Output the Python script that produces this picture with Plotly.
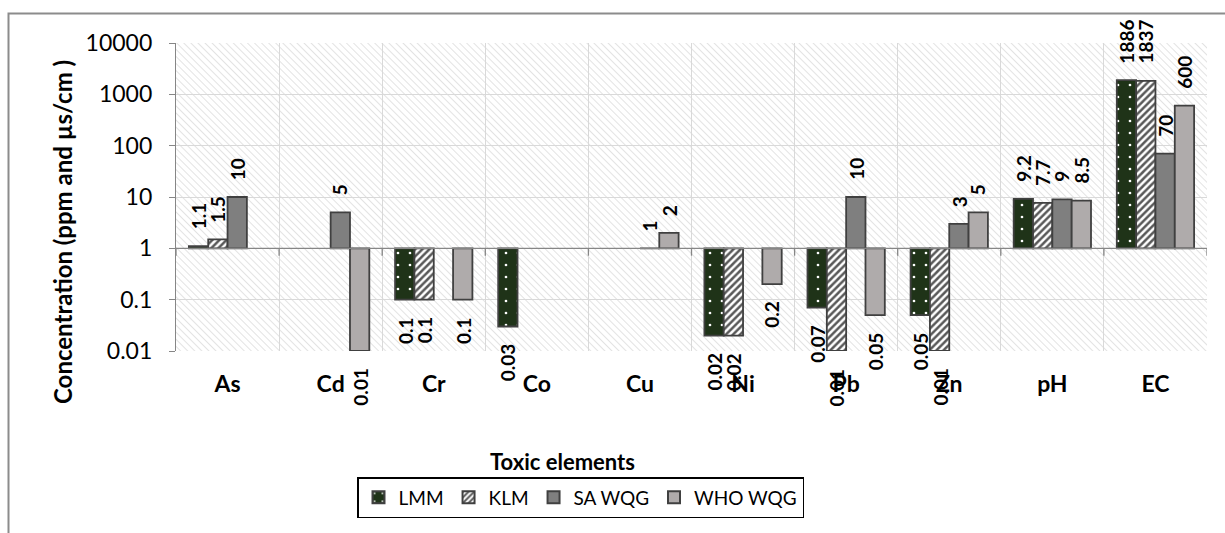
import base64
import math
import plotly.graph_objects as go

categories = ["As", "Cd", "Cr", "Co", "Cu", "Ni", "Pb", "Zn", "pH", "EC"]
lmm = [1.1, None, 0.1, 0.03, None, 0.02, 0.07, 0.05, 9.2, 1886]
klm = [1.5, None, 0.1, None, None, 0.02, 0.01, 0.01, 7.7, 1837]
sa_wqg = [10, 5, None, None, 1, None, 10, 3, 9, 70]
who_wqg = [None, 0.01, 0.1, None, 2, 0.2, 0.05, 5, 8.5, 600]
series_names = ["LMM", "KLM", "SA WQG", "WHO WQG"]
y_tickvals = [0.01, 0.1, 1, 10, 100, 1000, 10000]
y_ticktext = ["0.01", "0.1", "1", "10", "100", "1000", "10000"]

BASE = 1.0
FONT = "Lato"
OUTLINE = "#404040"
BARGAP = 0.25

W, H = 1225, 533
L, R, T, B = 176, 18, 43, 182
PW, PH = W - L - R, H - T - B


def px_to_paper_x(px):
    return (px - L) / PW


def px_to_paper_y(py):
    return (H - B - py) / PH


def fmt(v):
    return "%g" % v


styles = [
    dict(color="#1f3318", pattern=dict(shape=".", fgcolor="white", bgcolor="#1f3318", size=12, solidity=0.04)),
    dict(color="white", pattern=dict(shape="/", fgcolor="#595959", bgcolor="white", size=5, solidity=0.5)),
    dict(color="#7f7f7f"),
    dict(color="#afabab"),
]

all_series = [lmm, klm, sa_wqg, who_wqg]
n_series = len(all_series)
bar_w = (1 - BARGAP) / n_series

fig = go.Figure()
annotations = []
for j, (name, vals, st) in enumerate(zip(series_names, all_series, styles)):
    marker = dict(color=st["color"], line=dict(color=OUTLINE, width=1.8))
    if "pattern" in st:
        marker["pattern"] = dict(fillmode="replace", **st["pattern"])
    fig.add_trace(go.Bar(
        name=name,
        x=categories,
        y=[None if v is None else v - BASE for v in vals],
        base=BASE,
        marker=marker,
        cliponaxis=False,
        hoverinfo="skip",
    ))
    # value labels (rotated, outside end of each bar)
    for k, v in enumerate(vals):
        if v is None:
            continue
        up = v >= BASE
        annotations.append(dict(
            text="<b>%s</b>" % fmt(v), textangle=-90,
            xref="x", yref="y",
            x=k + (j - (n_series - 1) / 2) * bar_w, y=math.log10(v),
            xanchor="center", yanchor="bottom" if up else "top",
            yshift=15 if up else -15,
            showarrow=False,
            font=dict(family=FONT, size=19, color="black"),
        ))

# background hatch for the plot area
svg = ('<svg xmlns="http://www.w3.org/2000/svg" width="%d" height="%d">'
       '<defs><pattern id="p" width="5" height="5" patternUnits="userSpaceOnUse" patternTransform="rotate(-45)">'
       '<line x1="0" y1="0" x2="0" y2="5" stroke="#d4d4d4" stroke-width="1.3"/></pattern></defs>'
       '<rect width="100%%" height="100%%" fill="white"/><rect width="100%%" height="100%%" fill="url(#p)"/></svg>') % (PW, PH)
src = "data:image/svg+xml;base64," + base64.b64encode(svg.encode()).decode()

shapes = [
    # outer chart frame
    dict(type="rect", xref="paper", yref="paper",
         x0=px_to_paper_x(8.5), x1=px_to_paper_x(1240), y0=px_to_paper_y(13.5), y1=px_to_paper_y(560),
         line=dict(color="#8c8c8c", width=2), layer="below"),
    # horizontal axis crossing at 1
    dict(type="line", xref="paper", yref="y", x0=0, x1=1, y0=BASE, y1=BASE,
         line=dict(color="#868686", width=1.3), layer="above"),
]
for k in range(len(categories) + 1):
    shapes.append(dict(type="line", xref="x", yref="y", x0=k - 0.5, x1=k - 0.5, y0=BASE, y1=0.72,
                       line=dict(color="#868686", width=1.3)))

annotations += [
    dict(text="<b>Concentration (ppm and µs/cm )</b>", textangle=-90,
         xref="paper", yref="paper", x=px_to_paper_x(62), y=px_to_paper_y(232),
         xanchor="center", yanchor="middle", showarrow=False,
         font=dict(family=FONT, size=24, color="black")),
    dict(text="<b>Toxic elements</b>",
         xref="paper", yref="paper", x=px_to_paper_x(562), y=px_to_paper_y(461),
         xanchor="center", yanchor="middle", showarrow=False,
         font=dict(family=FONT, size=22, color="black")),
]

fig.update_layout(
    width=W, height=H,
    margin=dict(l=L, r=R, t=T, b=B),
    paper_bgcolor="white",
    plot_bgcolor="white",
    barmode="group",
    bargap=BARGAP,
    bargroupgap=0,
    font=dict(family=FONT, color="black"),
    images=[dict(source=src, xref="paper", yref="paper", x=0, y=1, sizex=1, sizey=1,
                 xanchor="left", yanchor="top", sizing="stretch", layer="below")],
    shapes=shapes,
    showlegend=True,
    legend=dict(orientation="h", x=px_to_paper_x(357), y=px_to_paper_y(477),
                xanchor="left", yanchor="top",
                bordercolor="black", borderwidth=1.5,
                font=dict(family=FONT, size=19, color="black"),
                itemsizing="constant", traceorder="normal", itemwidth=30),
    annotations=annotations,
)

fig.update_xaxes(
    type="category",
    tickson="boundaries",
    showgrid=True, gridcolor="#d9d9d9", gridwidth=1.3,
    ticks="", ticklabelstandoff=17,
    tickfont=dict(family=FONT, size=23, color="black", weight="bold"),
    showline=False, zeroline=False,
    range=[-0.5, len(categories) - 0.5],
)
fig.update_yaxes(
    type="log",
    range=[-2, 4],
    tickvals=y_tickvals, ticktext=y_ticktext,
    showgrid=True, gridcolor="#d9d9d9", gridwidth=1.3,
    ticks="outside", ticklen=6, tickcolor="#868686",
    ticklabelstandoff=12,
    showline=True, linecolor="#868686", linewidth=1.3,
    tickfont=dict(family=FONT, size=23, color="black"),
    zeroline=False,
)

fig.write_html("out.html")
